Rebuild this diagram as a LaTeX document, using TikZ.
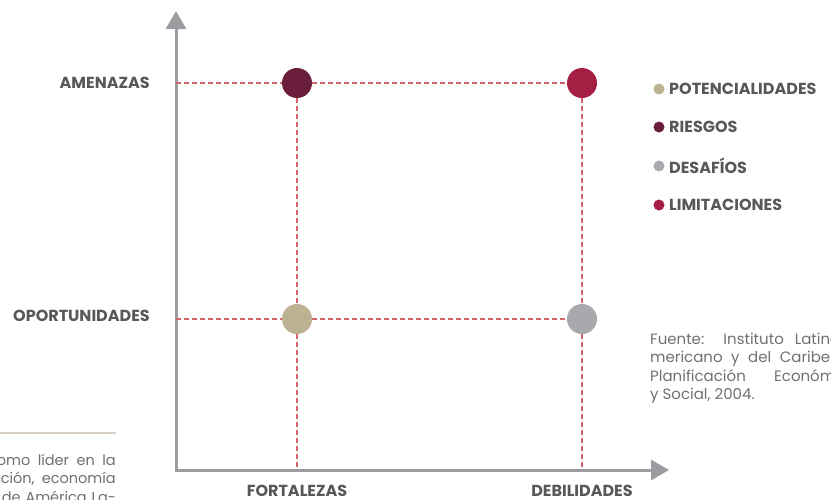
\documentclass[tikz,border=0pt]{standalone}
\usepackage{fontspec}
\setmainfont{Poppins}
\usetikzlibrary{arrows.meta}
\definecolor{axisgray}{HTML}{9C9CA0}
\definecolor{dashred}{HTML}{D4626A}
\definecolor{riesgo}{HTML}{6B1E3B}
\definecolor{limit}{HTML}{A51E44}
\definecolor{poten}{HTML}{BCB191}
\definecolor{desaf}{HTML}{A8A9AD}
\definecolor{labgray}{HTML}{58585A}
\definecolor{txtgray}{HTML}{707072}
\definecolor{tanline}{HTML}{D8D1C3}
\begin{document}
\begin{tikzpicture}[x=1pt,y=-1pt,
  axis/.style={draw=axisgray,line width=3pt,-{Triangle[length=18pt,width=20pt]}},
  guide/.style={draw=dashred,line width=1.6pt,dash pattern=on 5pt off 3pt},
  dot/.style={circle,inner sep=0pt,minimum size=30pt},
  ldot/.style={circle,inner sep=0pt,minimum size=11pt},
  axlab/.style={font=\bfseries\fontsize{16}{18}\selectfont,text=labgray,inner sep=0pt},
  leglab/.style={font=\bfseries\fontsize{16}{18}\selectfont,text=labgray,inner sep=0pt,anchor=west},
  body/.style={font=\fontsize{14.5}{18}\selectfont,text=txtgray,inner sep=0pt},
  srcbody/.style={font=\fontsize{15}{18}\selectfont,text=txtgray,inner sep=0pt,anchor=base west}
]
\useasboundingbox (0,0) rectangle (831,499);
\begin{scope}
\clip (0,0) rectangle (831,499);
% axes
\coordinate (ytip) at (176,11);
\coordinate (xtip) at (669,470);
\draw[axis] (176,471.5) -- (ytip);
\draw[axis] (174.5,470) -- (xtip);
% grid points
\coordinate (a1) at (176,83);
\coordinate (o1) at (176,319);
\coordinate (f0) at (297,470);
\coordinate (d0) at (582,470);
\node[dot,fill=riesgo] (R) at (297,83) {};
\node[dot,fill=limit] (L) at (582,83) {};
\node[dot,fill=poten] (P) at (297,319) {};
\node[dot,fill=desaf] (D) at (582,319) {};
\draw[guide] (a1) -- (R) -- (L);
\draw[guide] (o1) -- (P) -- (D);
\draw[guide] (R) -- (P) -- (f0);
\draw[guide] (L) -- (D) -- (d0);
% axis labels
\node[axlab,anchor=east] (am) at (150,83) {AMENAZAS};
\node[axlab,anchor=east] (op) at (150,316) {OPORTUNIDADES};
\node[axlab] (fo) at (297,491) {FORTALEZAS};
\node[axlab] (de) at (582,491) {DEBILIDADES};
% legend
\node[ldot,fill=poten] (l1) at (659,89) {};
\node[leglab] (t1) at (669,89) {POTENCIALIDADES};
\node[ldot,fill=riesgo] (l2) at (659,127) {};
\node[leglab] (t2) at (669,127) {RIESGOS};
\node[ldot,fill=desaf] (l3) at (659,166) {};
\node[leglab] (t3) at (669,166) {DESAFÍOS};
\node[ldot,fill=limit] (l4) at (659,205) {};
\node[leglab] (t4) at (669,205) {LIMITACIONES};
% source text
\node[srcbody] (s1) at (650,344) {\makebox[208pt][s]{Fuente: Instituto Latinoa-}};
\node[srcbody] (s2) at (650,362) {\makebox[208pt][s]{mericano y del Caribe de}};
\node[srcbody] (s3) at (650,381) {\makebox[208pt][s]{Planificación Económica}};
\node[srcbody] (s4) at (650,399) {y Social, 2004.};
% left fragment
\draw[draw=tanline,line width=2pt] (0,433) -- (116,433);
\node[body,anchor=base east] (b1) at (116,465) {\makebox[119pt][s]{omo líder en la}};
\node[body,anchor=base east] (b2) at (116,483) {\makebox[115pt][s]{ción, economía}};
\node[body,anchor=base east] (b3) at (116,502) {\makebox[114pt][s]{de América La-}};
\end{scope}
\end{tikzpicture}
\end{document}
